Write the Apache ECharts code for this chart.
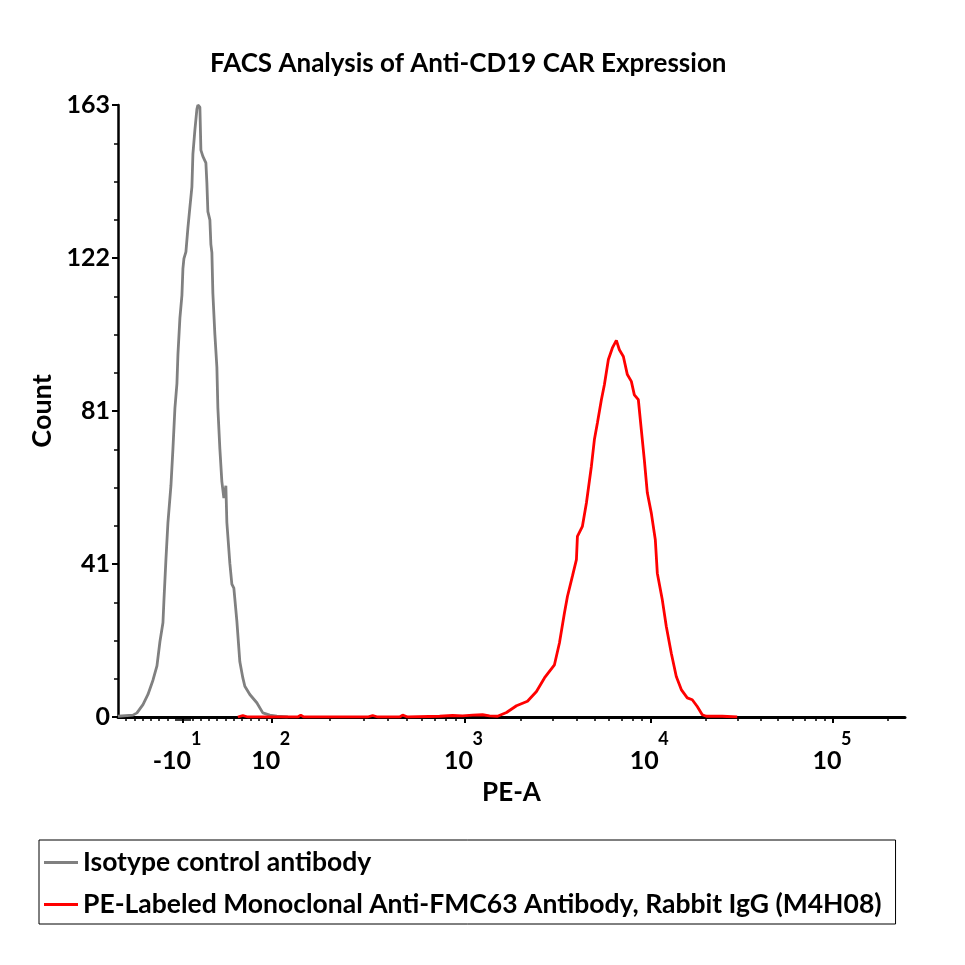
<!DOCTYPE html>
<html>
<head>
<meta charset="utf-8">
<script src="https://cdn.jsdelivr.net/npm/echarts@6/dist/echarts.min.js"></script>
<style>
  html, body { margin: 0; padding: 0; background: #fff; }
  #chart { width: 965px; height: 965px; }
</style>
</head>
<body>
<div id="chart"></div>
<script>
// x is the instrument display channel (biexponential scale), y is event count
const grayX = [0, 15, 19, 25, 30, 35, 39, 42, 45, 46, 48, 50, 53, 55, 57, 59, 60, 62, 64, 65, 66, 68, 70, 72, 74, 75, 77, 79, 80, 82, 83, 85, 88, 89, 90, 92, 93, 94, 95, 97, 99, 100, 102, 104, 106, 108, 109, 112, 114, 116, 119, 122, 125, 127, 132, 139, 145, 152, 159, 170];
const grayY = [0.2, 0.5, 1.1, 3.3, 6, 9.8, 13.6, 20.1, 25.1, 31.1, 42, 51.8, 61.6, 71.4, 82.3, 88.8, 96.5, 106.3, 112.3, 119.4, 122.1, 123.9, 130.3, 135.8, 141.2, 149.9, 156.4, 161.9, 163, 162.4, 151, 149.3, 147.6, 142.2, 134.6, 132.4, 125.9, 123.7, 112.8, 101.9, 93.2, 82.3, 71.4, 62.7, 58.3, 61.6, 51.8, 40.9, 35.4, 34.3, 25.6, 14.7, 10.4, 8.2, 6, 3.8, 1.1, 0.5, 0.2, 0];

const redX = [120, 125, 130, 180, 183, 186, 250, 255, 260, 282, 285, 290, 322, 335, 345, 355, 365, 372, 380, 389, 399, 410, 419, 427, 437, 442, 447, 450, 455, 459, 460, 465, 469, 474, 477, 480, 484, 487, 491, 495, 499, 502, 506, 510, 514, 517, 521, 524, 527, 530, 534, 538, 540, 545, 549, 554, 559, 564, 570, 575, 580, 585, 589, 605, 620];
const redY = [0, 0.4, 0, 0, 0.5, 0, 0, 0.4, 0, 0, 0.5, 0, 0.2, 0.4, 0.3, 0.5, 0.6, 0.3, 0.2, 1.2, 3, 4.2, 6.8, 10.4, 13.9, 19.7, 27.7, 32.1, 37.5, 41.9, 48.1, 50.8, 57, 66.8, 73.9, 78.3, 84.5, 88.5, 95.2, 98.3, 100.3, 97.8, 96, 91.2, 89.4, 85.8, 84.5, 76.5, 68.5, 59.7, 54.3, 47.2, 38.3, 31.2, 24.1, 17, 10.8, 7.3, 5.1, 4.6, 2.8, 0.6, 0.2, 0.2, 0];

// axis ticks and labels
const xMajorTicks = [65, 154, 347, 533, 716];
const xBaseLabels = ['-10', '10', '10', '10', '10'];
const xExpLabels = ['1', '2', '3', '4', '5'];
const yTickLabels = ['0', '41', '81', '122', '163'];
const yMax = 163;

const seriesNames = ['Isotype control antibody', 'PE-Labeled Monoclonal Anti-FMC63 Antibody, Rabbit IgG (M4H08)'];

// minor ticks: linear part near zero, then log steps inside each decade
const xMinorTicks = [];
for (let v = 8; v < 150; v += 8.3) xMinorTicks.push(+v.toFixed(1));
for (let v = 58; v <= 72; v += 2) xMinorTicks.push(v);
for (let d = 1; d < xMajorTicks.length - 1; d++) {
  const a = xMajorTicks[d], b = xMajorTicks[d + 1];
  for (let k = 2; k <= 9; k++) xMinorTicks.push(+(a + Math.log10(k) * (b - a)).toFixed(1));
}
xMinorTicks.push(+(716 + Math.log10(2) * 183).toFixed(1));

const font = 'Lato';
const txt = { fontFamily: font, fontWeight: 'bold', color: '#000' };

const chart = echarts.init(document.getElementById('chart'));
chart.setOption({
  animation: false,
  title: {
    text: 'FACS Analysis of Anti-CD19 CAR Expression',
    left: 205, top: 46,
    textStyle: { ...txt, fontSize: 26 }
  },
  legend: {
    orient: 'vertical', left: 39, top: 840,
    data: seriesNames,
    icon: 'rect', itemWidth: 34, itemHeight: 3, itemGap: 15,
    borderColor: '#000', borderWidth: 1, padding: [9, 14, 6, 5],
    textStyle: { ...txt, fontSize: 26.5 }
  },
  grid: { left: 118, right: 60, top: 105, bottom: 248 },
  xAxis: [
    {
      type: 'value', min: 0, max: 788,
      name: 'PE-A', nameLocation: 'middle', nameGap: 63,
      nameTextStyle: { ...txt, fontSize: 26 },
      axisLine: { lineStyle: { color: '#000', width: 3 } },
      axisTick: { customValues: xMajorTicks, length: 6, lineStyle: { color: '#000', width: 2 } },
      splitLine: { show: false },
      axisLabel: {
        customValues: xMajorTicks, margin: 31,
        ...txt, fontSize: 25,
        formatter: (v) => {
          const lab = xBaseLabels[xMajorTicks.indexOf(v)];
          return lab.startsWith('-') ? '{n|' + lab + '}' : '{b|' + lab + '}';
        },
        rich: {
          b: { ...txt, fontSize: 25, padding: [0, 12, 0, 0] },
          n: { ...txt, fontSize: 25, padding: [0, 22, 0, 0] }
        }
      }
    },
    {
      type: 'value', min: 0, max: 788, position: 'bottom',
      axisLine: { show: false },
      axisTick: { customValues: xMinorTicks, length: 4, lineStyle: { color: '#000', width: 1.5 } },
      splitLine: { show: false },
      axisLabel: {
        customValues: xMajorTicks, margin: 13, align: 'left', padding: [0, 0, 0, 8],
        ...txt, fontSize: 18,
        formatter: (v) => xExpLabels[xMajorTicks.indexOf(v)]
      }
    }
  ],
  yAxis: {
    type: 'value', min: 0, max: yMax, interval: yMax / 4,
    name: 'Count', nameLocation: 'middle', nameGap: 54,
    nameTextStyle: { ...txt, fontSize: 27 },
    axisLine: { show: true, lineStyle: { color: '#000', width: 2.5 } },
    axisTick: { show: true, length: 6, lineStyle: { color: '#000', width: 2 } },
    minorTick: { show: true, splitNumber: 4, length: 4, lineStyle: { color: '#000', width: 1.5 } },
    splitLine: { show: false },
    axisLabel: {
      margin: 8, ...txt, fontSize: 25,
      formatter: (v) => yTickLabels[Math.round(v / (yMax / 4))]
    }
  },
  series: [
    {
      name: seriesNames[0], type: 'line', xAxisIndex: 0,
      data: grayX.map((x, i) => [x, grayY[i]]),
      showSymbol: false, color: '#808080',
      lineStyle: { color: '#808080', width: 2.8 }
    },
    {
      name: seriesNames[1], type: 'line', xAxisIndex: 0,
      data: redX.map((x, i) => [x, redY[i]]),
      showSymbol: false, color: '#ff0000',
      lineStyle: { color: '#ff0000', width: 2.8 }
    }
  ]
});
</script>
</body>
</html>
